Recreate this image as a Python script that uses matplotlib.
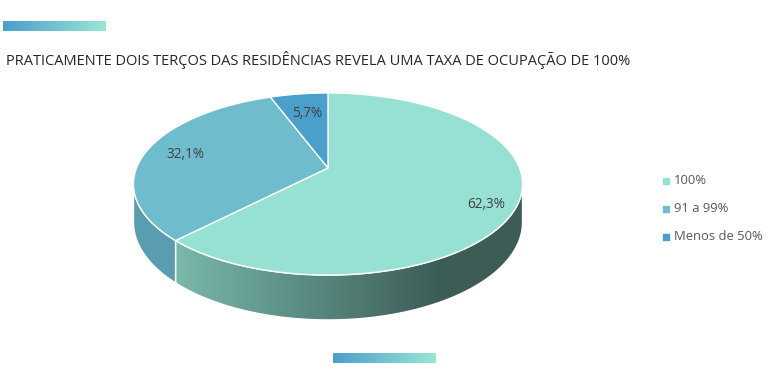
import numpy as np
import matplotlib
matplotlib.use("Agg")
import matplotlib.pyplot as plt
from matplotlib.patches import Polygon
from matplotlib.colors import LinearSegmentedColormap

plt.rcParams['font.family'] = ['Open Sans', 'DejaVu Sans']

# data
categories = ['100%', '91 a 99%', 'Menos de 50%']
values = [62.3, 32.1, 5.7]
labels = ['62,3%', '32,1%', '5,7%']
top_colors = ['#96e0d4', '#6fbdcc', '#4a9fcb']
title = 'PRATICAMENTE DOIS TERÇOS DAS RESIDÊNCIAS REVELA UMA TAXA DE OCUPAÇÃO DE 100%'

# pie geometry (pixels), perspective 3d look
cx, cy = 328, 168
R, S, k = 191.5, 88.2, 0.176
H = 37
label_r = [0.84, 0.78, 0.70]


def proj(theta, f=1.0, depth=0.0):
    # theta: radians clockwise from top of the flat disc
    u = f * np.sin(theta)
    v = f * np.cos(theta)
    w = 1 + k * v
    return cx + R * u / w, cy + (-S * v + depth) / w


fig = plt.figure(figsize=(7.75, 3.81), dpi=100)
ax = fig.add_axes([0, 0, 1, 1])
ax.set_xlim(0, 775)
ax.set_ylim(381, 0)
ax.axis('off')

# gradient bars
grad = LinearSegmentedColormap.from_list('g', ['#4a9fcb', '#9ae6d6'])
gx = np.linspace(0, 1, 256).reshape(1, -1)
ax.imshow(gx, cmap=grad, extent=[3, 106, 31, 21], aspect='auto')
ax.imshow(gx, cmap=grad, extent=[333, 436, 363, 353], aspect='auto')

ax.text(6, 60, title, fontsize=10.55, color='#262626', va='center', ha='left')

# slice angles
fr = np.array(values) / sum(values)
ends = np.cumsum(fr) * 2 * np.pi
starts = ends - fr * 2 * np.pi
vis_a = np.arccos(-k)
vis_b = 2 * np.pi - vis_a

# sides
side_colors = [None, '#5a9db0', '#4a8fb5']
side_cmap = LinearSegmentedColormap.from_list(
    's', [(0, '#7ab8aa'), (0.45, '#5c8f86'), (1.0, '#3d5c56')])
for i in range(len(values)):
    a = max(starts[i], vis_a)
    b = min(ends[i], vis_b)
    if b <= a:
        continue
    t = np.linspace(a, b, 200)
    tx, ty = proj(t)
    bx, by = proj(t[::-1], depth=H)
    pts = np.column_stack([np.r_[tx, bx], np.r_[ty, by]])
    if i == 0:
        poly = Polygon(pts, closed=True, facecolor='none', edgecolor='none')
        ax.add_patch(poly)
        x0, x1 = pts[:, 0].min(), pts[:, 0].max()
        xx = np.linspace(x0, x1, 400)
        gv = np.clip((xx - x0) / 265.0, 0, 1).reshape(1, -1)
        im = ax.imshow(gv, cmap=side_cmap, vmin=0, vmax=1,
                       extent=[x0, x1, pts[:, 1].max(), pts[:, 1].min()],
                       aspect='auto', zorder=2)
        im.set_clip_path(poly)
        ax.add_patch(Polygon(pts, closed=True, facecolor='none',
                             edgecolor='white', lw=1, zorder=3))
    else:
        ax.add_patch(Polygon(pts, closed=True, facecolor=side_colors[i],
                             edgecolor='white', lw=1, zorder=3))

# top faces
for i in range(len(values)):
    t = np.linspace(starts[i], ends[i], 300)
    ex, ey = proj(t)
    pts = np.column_stack([np.r_[cx, ex], np.r_[cy, ey]])
    ax.add_patch(Polygon(pts, closed=True, facecolor=top_colors[i],
                         edgecolor='white', lw=1, zorder=4))
    mx, my = proj((starts[i] + ends[i]) / 2, f=label_r[i])
    ax.text(mx, my + (7 if i == 0 else 0), labels[i], fontsize=9.8,
            color='#404040', ha='center', va='center', zorder=5)

# legend
for i, (lab, col) in enumerate(zip(categories, top_colors)):
    yy = 181 + 28 * i
    ax.scatter([666], [yy], marker='s', s=16, color=col, zorder=5)
    ax.text(674, yy, lab, fontsize=9.4, color='#595959', va='center', ha='left')

fig.savefig('out.png', dpi=100)
